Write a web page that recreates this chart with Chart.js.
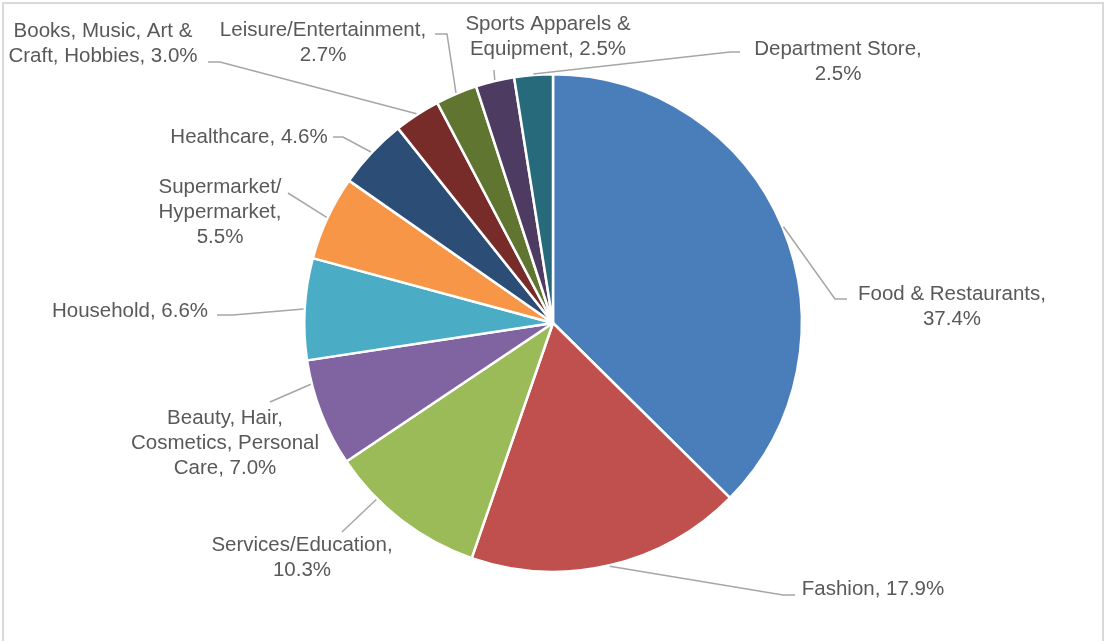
<!DOCTYPE html>
<html>
<head>
<meta charset="utf-8">
<script src="https://cdn.jsdelivr.net/npm/chart.js@4/dist/chart.umd.min.js"></script>
<style>
    html, body { margin: 0; padding: 0; background: #ffffff; }
    #wrap { position: relative; width: 1105px; height: 641px; overflow: hidden; }
    #frame {
        position: absolute; left: 2px; top: 2px; width: 1098px; height: 660px;
        border: 2px solid #d9d9d9; box-sizing: content-box; pointer-events: none;
    }
    canvas { position: absolute; left: 0; top: 0; }
</style>
</head>
<body>
<div id="wrap">
    <canvas id="share-chart" width="1105" height="641"></canvas>
    <div id="frame"></div>
</div>
<script>
const categories = [
    'Food & Restaurants',
    'Fashion',
    'Services/Education',
    'Beauty, Hair, Cosmetics, Personal Care',
    'Household',
    'Supermarket/ Hypermarket',
    'Healthcare',
    'Books, Music, Art & Craft, Hobbies',
    'Leisure/Entertainment',
    'Sports Apparels & Equipment',
    'Department Store'
];
const shares = [37.4, 17.9, 10.3, 7.0, 6.6, 5.5, 4.6, 3.0, 2.7, 2.5, 2.5];
const sliceColors = [
    '#4A7EBB', '#C0504D', '#9BBB59', '#8064A2', '#4BACC6', '#F79646',
    '#2C4D75', '#772C2A', '#5F7530', '#4D3B62', '#276A7C'
];

// where each data label sits: text centre, first line y, words per line,
// leader path from the text towards the slice, and where on the arc it lands
const labelLayout = [
    { x: 952, y: 294, wrap: [3],    path: [[847, 299], [835, 299]] },
    { x: 873, y: 589, wrap: [],     path: [[795, 595], [783, 595]] },
    { x: 302, y: 545, wrap: [1],    path: [[342, 532]], at: 0.70 },
    { x: 225, y: 418, wrap: [2, 2], path: [[270, 402]], at: 0.78 },
    { x: 130, y: 311, wrap: [],     path: [[217, 315], [233, 315]] },
    { x: 220, y: 187, wrap: [1, 1], path: [[288, 193]] },
    { x: 249, y: 137, wrap: [],     path: [[333, 137], [343, 137]] },
    { x: 103, y: 31,  wrap: [4],    path: [[208, 62], [220, 62]] },
    { x: 323, y: 30,  wrap: [1],    path: [[435, 34], [447, 34]] },
    { x: 548, y: 24,  wrap: [3],    path: [[494, 70]] },
    { x: 838, y: 49,  wrap: [2],    path: [[740, 52], [730, 52]] }
];

const LINE_HEIGHT = 25;

function labelLines(i) {
    const words = (categories[i] + ', ' + shares[i].toFixed(1) + '%').split(' ');
    const lines = [];
    let pos = 0;
    labelLayout[i].wrap.forEach(n => {
        lines.push(words.slice(pos, pos + n).join(' '));
        pos += n;
    });
    lines.push(words.slice(pos).join(' '));
    return lines;
}

const calloutLabels = {
    id: 'calloutLabels',
    afterDatasetsDraw(chart) {
        const ctx = chart.ctx;
        const meta = chart.getDatasetMeta(0);
        ctx.save();

        meta.data.forEach((arc, i) => {
            const layout = labelLayout[i];
            const p = arc.getProps(['x', 'y', 'startAngle', 'endAngle', 'outerRadius'], true);
            const frac = layout.at !== undefined ? layout.at : 0.5;
            const angle = p.startAngle + (p.endAngle - p.startAngle) * frac;
            const ex = p.x + Math.cos(angle) * (p.outerRadius + 1);
            const ey = p.y + Math.sin(angle) * (p.outerRadius + 1);

            ctx.beginPath();
            ctx.strokeStyle = '#a6a6a6';
            ctx.lineWidth = 1.5;
            layout.path.forEach((pt, k) => {
                if (k === 0) ctx.moveTo(pt[0], pt[1]);
                else ctx.lineTo(pt[0], pt[1]);
            });
            ctx.lineTo(ex, ey);
            ctx.stroke();

            ctx.fillStyle = '#595959';
            ctx.font = '20.5px "Liberation Sans", Arial, sans-serif';
            ctx.textAlign = 'center';
            ctx.textBaseline = 'middle';
            labelLines(i).forEach((line, k) => {
                ctx.fillText(line, layout.x, layout.y + k * LINE_HEIGHT);
            });
        });

        ctx.restore();
    }
};

new Chart(document.getElementById('share-chart'), {
    type: 'pie',
    data: {
        labels: categories,
        datasets: [{
            data: shares,
            backgroundColor: sliceColors,
            borderColor: '#ffffff',
            borderWidth: 2.5
        }]
    },
    options: {
        responsive: false,
        animation: false,
        events: [],
        layout: { padding: { top: 73, bottom: 68, left: 303, right: 302 } },
        plugins: {
            legend: { display: false },
            tooltip: { enabled: false }
        }
    },
    plugins: [calloutLabels]
});
</script>
</body>
</html>
